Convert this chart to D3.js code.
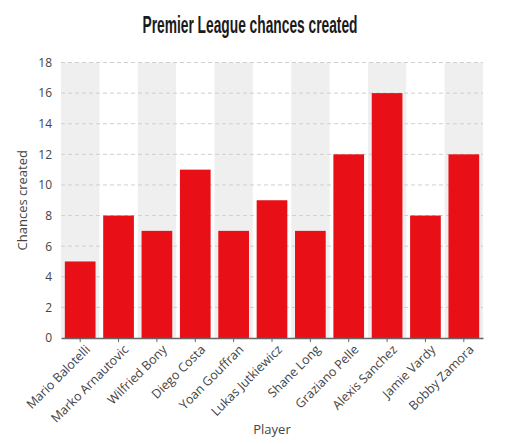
<!DOCTYPE html>
<html><head><meta charset="utf-8">
<script src="https://cdn.jsdelivr.net/npm/d3@7"></script>
<style>
body{margin:0;background:#fff;}
svg{display:block;}
</style></head>
<body>
<svg id="chart" width="510" height="444"></svg>
<script>
const players = ["Mario Balotelli","Marko Arnautovic","Wilfried Bony","Diego Costa","Yoan Gouffran","Lukas Jutkiewicz","Shane Long","Graziano Pelle","Alexis Sanchez","Jamie Vardy","Bobby Zamora"];
const chances = [5,8,7,11,7,9,7,12,16,8,12];
const yTicks = [0,2,4,6,8,10,12,14,16,18];
const title = "Premier League chances created";
const xTitle = "Player";
const yTitle = "Chances created";

const svg = d3.select("#chart");
const m = {left:61, right:27, top:62.5, bottom:106};
const W = 510, H = 444;
const x = d3.scaleBand().domain(players).range([m.left, W - m.right]).paddingInner(0.2).paddingOuter(0.1);
const xb = d3.scaleBand().domain(players).range([m.left, W - m.right]);
const y = d3.scaleLinear().domain([0,18]).range([H - m.bottom, m.top]);

// alternating bands
svg.append("g").selectAll("rect").data(players.filter((d,i)=>i%2===0)).join("rect")
  .attr("x", d=>xb(d)).attr("width", xb.bandwidth())
  .attr("y", y(18)).attr("height", y(0)-y(18))
  .attr("fill", "#efefef");

// grid
svg.append("g").selectAll("line").data(yTicks.filter(t=>t>0)).join("line")
  .attr("x1", m.left).attr("x2", W - m.right)
  .attr("y1", d=>y(d)).attr("y2", d=>y(d))
  .attr("stroke", "#cfcfcf").attr("stroke-width", 1).attr("stroke-dasharray", "4,3");

// bars
svg.append("g").selectAll("rect").data(players).join("rect")
  .attr("x", d=>x(d)).attr("width", x.bandwidth())
  .attr("y", (d,i)=>y(chances[i])).attr("height", (d,i)=>y(0)-y(chances[i]))
  .attr("fill", "#e80f16");

// y axis
const ya = svg.append("g").attr("transform", `translate(${m.left},0)`)
  .call(d3.axisLeft(y).tickValues(yTicks).tickSize(0).tickPadding(9));
ya.select(".domain").remove();
ya.selectAll("text").attr("font-family", "'Open Sans', sans-serif").attr("font-size", 12).attr("fill", "#444");

// x axis
const xa = svg.append("g").attr("transform", `translate(0,${y(0)})`)
  .call(d3.axisBottom(xb).tickSize(4).tickSizeOuter(0));
xa.select(".domain").attr("stroke", "#666").attr("stroke-width", 1.5);
xa.selectAll(".tick line").attr("stroke", "#666");
xa.selectAll("text")
  .attr("font-family", "'Open Sans', sans-serif").attr("font-size", 12.5).attr("fill", "#444")
  .attr("text-anchor", "end")
  .attr("transform", "translate(3,1) rotate(-45)")
  .attr("dy", "0.6em").attr("dx", "-0.2em").attr("y", 6);

// titles
svg.append("text").attr("x", 250).attr("y", 33).attr("text-anchor", "middle")
  .attr("font-family", "'Liberation Sans', Arial, sans-serif")
  .attr("textLength", 215).attr("lengthAdjust", "spacingAndGlyphs")
  .attr("font-weight", "bold").attr("font-size", 23).attr("fill", "#1a1a1a").text(title);
svg.append("text").attr("x", (m.left + W - m.right)/2).attr("y", 434).attr("text-anchor", "middle")
  .attr("font-family", "'Open Sans', sans-serif").attr("font-size", 13).attr("fill", "#444").text(xTitle);
svg.append("text").attr("transform", `translate(27,${(y(0)+y(18))/2}) rotate(-90)`).attr("text-anchor", "middle")
  .attr("font-family", "'Open Sans', sans-serif").attr("font-size", 13).attr("fill", "#444").text(yTitle);
</script>
</body></html>
